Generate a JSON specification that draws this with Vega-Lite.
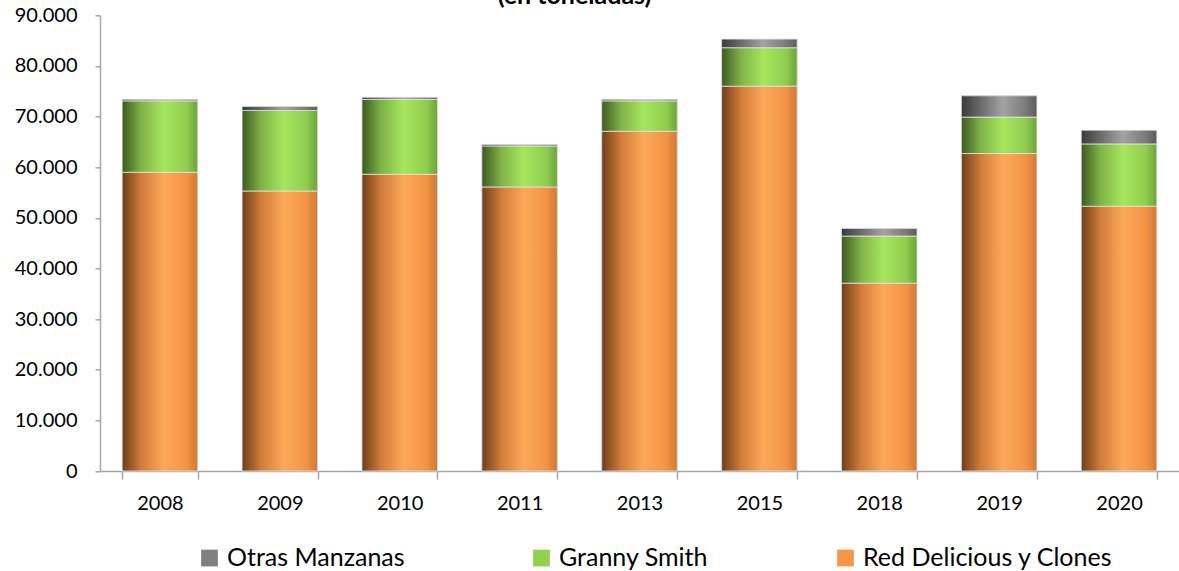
{
  "$schema": "https://vega.github.io/schema/vega-lite/v6.json",
  "width": 1079,
  "height": 455.7,
  "autosize": {"type": "none"},
  "padding": {"left": 100, "top": 15.3, "right": 0, "bottom": 100},
  "background": "white",
  "title": {"text": "(en toneladas)", "font": "Lato", "fontSize": 25, "fontWeight": "bold", "color": "#000000", "anchor": "middle", "baseline": "alphabetic", "offset": -24, "dx": -65},
  "data": {"values": [
    {"year": "2008", "variedad": "Red Delicious y Clones", "orden": 1, "valor": 59000},
    {"year": "2008", "variedad": "Granny Smith", "orden": 2, "valor": 14100},
    {"year": "2008", "variedad": "Otras Manzanas", "orden": 3, "valor": 300},
    {"year": "2009", "variedad": "Red Delicious y Clones", "orden": 1, "valor": 55300},
    {"year": "2009", "variedad": "Granny Smith", "orden": 2, "valor": 15900},
    {"year": "2009", "variedad": "Otras Manzanas", "orden": 3, "valor": 800},
    {"year": "2010", "variedad": "Red Delicious y Clones", "orden": 1, "valor": 58600},
    {"year": "2010", "variedad": "Granny Smith", "orden": 2, "valor": 14800},
    {"year": "2010", "variedad": "Otras Manzanas", "orden": 3, "valor": 400},
    {"year": "2011", "variedad": "Red Delicious y Clones", "orden": 1, "valor": 56100},
    {"year": "2011", "variedad": "Granny Smith", "orden": 2, "valor": 8100},
    {"year": "2011", "variedad": "Otras Manzanas", "orden": 3, "valor": 300},
    {"year": "2013", "variedad": "Red Delicious y Clones", "orden": 1, "valor": 67100},
    {"year": "2013", "variedad": "Granny Smith", "orden": 2, "valor": 6000},
    {"year": "2013", "variedad": "Otras Manzanas", "orden": 3, "valor": 300},
    {"year": "2015", "variedad": "Red Delicious y Clones", "orden": 1, "valor": 76000},
    {"year": "2015", "variedad": "Granny Smith", "orden": 2, "valor": 7600},
    {"year": "2015", "variedad": "Otras Manzanas", "orden": 3, "valor": 1700},
    {"year": "2018", "variedad": "Red Delicious y Clones", "orden": 1, "valor": 37100},
    {"year": "2018", "variedad": "Granny Smith", "orden": 2, "valor": 9300},
    {"year": "2018", "variedad": "Otras Manzanas", "orden": 3, "valor": 1500},
    {"year": "2019", "variedad": "Red Delicious y Clones", "orden": 1, "valor": 62700},
    {"year": "2019", "variedad": "Granny Smith", "orden": 2, "valor": 7200},
    {"year": "2019", "variedad": "Otras Manzanas", "orden": 3, "valor": 4200},
    {"year": "2020", "variedad": "Red Delicious y Clones", "orden": 1, "valor": 52300},
    {"year": "2020", "variedad": "Granny Smith", "orden": 2, "valor": 12300},
    {"year": "2020", "variedad": "Otras Manzanas", "orden": 3, "valor": 2700}
  ]},
  "transform": [
    {"stack": "valor", "groupby": ["year"], "sort": [{"field": "orden", "order": "ascending"}], "as": ["y0", "y1"]}
  ],
  "encoding": {
    "x": {"field": "year", "type": "nominal", "sort": null,
      "scale": {"paddingInner": 0.37, "paddingOuter": 0.185},
      "axis": {"title": null, "labelAngle": 0, "labelFont": "Lato", "labelFontSize": 20, "labelColor": "#000000", "labelPadding": 14,
        "domainColor": "#a6a6a6", "domainWidth": 1.5, "tickColor": "#a6a6a6", "tickSize": 8, "tickWidth": 1.5, "tickBand": "extent", "grid": false}},
    "y": {"field": "y0", "type": "quantitative",
      "scale": {"domain": [0, 90000], "nice": false},
      "axis": {"title": null, "values": [0, 10000, 20000, 30000, 40000, 50000, 60000, 70000, 80000, 90000],
        "labelExpr": "replace(format(datum.value, ','), ',', '.')",
        "labelFont": "Lato", "labelFontSize": 20, "labelColor": "#000000", "labelPadding": 18,
        "domainColor": "#a6a6a6", "domainWidth": 1.5, "tickColor": "#a6a6a6", "tickSize": 5, "tickWidth": 1.5, "grid": false}},
    "y2": {"field": "y1"}
  },
  "layer": [
    {
      "mark": {"type": "bar"},
      "encoding": {
        "color": {"field": "variedad", "type": "nominal",
          "scale": {"domain": ["Otras Manzanas", "Granny Smith", "Red Delicious y Clones"], "range": ["#808080", "#92d050", "#f79646"]},
          "legend": {"title": null, "orient": "none", "direction": "horizontal", "legendX": 97, "legendY": 530,
            "symbolType": "square", "symbolSize": 280, "symbolStrokeWidth": 0, "symbolOpacity": 1,
            "labelFont": "Lato", "labelFontSize": 25, "labelColor": "#000000", "labelOffset": 5, "labelLimit": 500, "columnPadding": 124}}
      }
    },
    {
      "mark": {"type": "bar", "stroke": "#e4e4e4", "strokeWidth": 0.8},
      "encoding": {
        "fill": {
          "condition": [
            {"test": "datum.variedad === 'Otras Manzanas'", "value": {"gradient": "linear", "x1": 0, "x2": 1, "y1": 0, "y2": 0,
              "stops": [{"offset": 0, "color": "#3a3a3a"}, {"offset": 0.25, "color": "#6a6a6a"}, {"offset": 0.55, "color": "#a3a3a3"}, {"offset": 0.85, "color": "#7a7a7a"}, {"offset": 1, "color": "#5c5c5c"}]}},
            {"test": "datum.variedad === 'Granny Smith'", "value": {"gradient": "linear", "x1": 0, "x2": 1, "y1": 0, "y2": 0,
              "stops": [{"offset": 0, "color": "#3b5a22"}, {"offset": 0.25, "color": "#7fb146"}, {"offset": 0.55, "color": "#a6e65e"}, {"offset": 0.85, "color": "#90cd50"}, {"offset": 1, "color": "#6ea33a"}]}}
          ],
          "value": {"gradient": "linear", "x1": 0, "x2": 1, "y1": 0, "y2": 0,
            "stops": [{"offset": 0, "color": "#6e3e1c"}, {"offset": 0.25, "color": "#cf7a38"}, {"offset": 0.55, "color": "#fca95b"}, {"offset": 0.85, "color": "#f39444"}, {"offset": 1, "color": "#cd7a3a"}]}
        }
      }
    }
  ],
  "config": {
    "view": {"stroke": null}
  }
}
